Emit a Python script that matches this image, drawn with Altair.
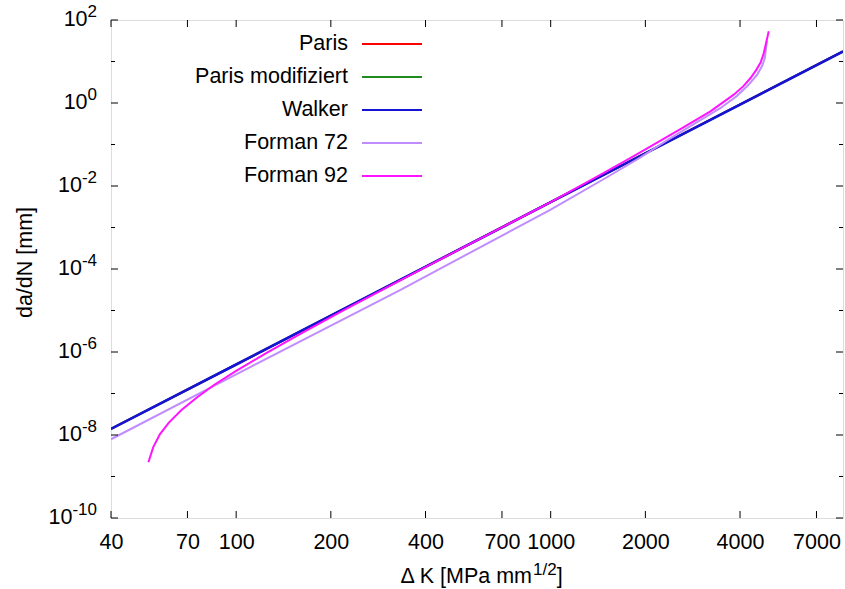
import altair as alt
import pandas as pd

# Crack growth rate da/dN versus stress intensity range ΔK (log-log)
paris_dk = [40, 100, 1000, 8500]
paris_rate = [1.4e-8, 5.0e-7, 4.07e-3, 17.5]

paris_mod_dk = [40, 100, 1000, 8500]
paris_mod_rate = [1.4e-8, 5.0e-7, 4.07e-3, 17.5]

walker_dk = [40, 100, 1000, 8500]
walker_rate = [1.4e-8, 5.0e-7, 4.07e-3, 17.5]

forman72_dk = [40, 100, 332, 1000, 1500, 1930, 2350, 2850, 3470, 3900, 4250, 4535,
               4700, 4800, 4870]
forman72_rate = [7.9e-9, 2.9e-7, 3.1e-5, 2.7e-3, 0.0158, 0.049, 0.128, 0.31, 0.76,
                 1.45, 2.7, 4.8, 7.8, 12.5, 32.0]

forman92_dk = [52.6, 54.5, 57.2, 61, 67, 75, 85, 100, 125, 160, 220, 400, 1000, 1400,
               1790, 2125, 2585, 3220, 3820, 4100, 4320, 4500, 4645, 4750, 4815, 4935]
forman92_rate = [2.2e-9, 5.1e-9, 1.04e-8, 1.96e-8, 4.0e-8, 8.0e-8, 1.6e-7, 3.5e-7,
                 9.5e-7, 2.75e-6, 1.02e-5, 1.11e-4, 4.1e-3, 0.0166, 0.047, 0.099,
                 0.235, 0.63, 1.59, 2.55, 4.0, 6.2, 9.3, 15.0, 23.3, 53.7]

series_names = ["Paris", "Paris modifiziert", "Walker", "Forman 72", "Forman 92"]
series_colors = ["#ff0000", "#1e8c1e", "#1414d2", "#c08cff", "#ff14ff"]
series_widths = [2, 2, 2.6, 2, 2]

x_tick_values = [40, 70, 100, 200, 400, 700, 1000, 2000, 4000, 7000]
y_major_exps = [-10, -8, -6, -4, -2, 0, 2]
y_minor_exps = [-9, -7, -5, -3, -1, 1]

FONT = "Liberation Sans"
FS = 21.5
FS_SUP = 17
W, H = 732, 498

x_scale = alt.Scale(type="log", domain=[40, 8500], nice=False)
y_scale = alt.Scale(type="log", domain=[1e-10, 100], nice=False)

x_axis = alt.Axis(values=x_tick_values, format="d", labelFont=FONT, labelFontSize=FS,
                  labelColor="black", ticks=False, tickSize=0, domain=False, grid=False,
                  labelFlush=False, labelOverlap=False, labelPadding=13, title=None)
y_axis = alt.Axis(labels=False, ticks=False, tickSize=0, domain=False, grid=False,
                  title="da/dN [mm]", titleFont=FONT, titleFontSize=FS,
                  titleFontWeight="normal", titleColor="black", titleX=-86, titleY=242,
                  titleAngle=270, titleAlign="center", titleBaseline="middle")


def x_field(name):
    return alt.X(name, type="quantitative", scale=x_scale, axis=x_axis)


def y_field(name):
    return alt.Y(name, type="quantitative", scale=y_scale, axis=y_axis)


def curve(dk, rate, color, width):
    df = pd.DataFrame({"dk": dk, "rate": rate})
    return alt.Chart(df).mark_line(color=color, strokeWidth=width, clip=True).encode(
        x=x_field("dk"), y=y_field("rate"))


series_data = [
    (paris_dk, paris_rate),
    (paris_mod_dk, paris_mod_rate),
    (walker_dk, walker_rate),
    (forman72_dk, forman72_rate),
    (forman92_dk, forman92_rate),
]
curves = [curve(dk, rate, c, w)
          for (dk, rate), c, w in zip(series_data, series_colors, series_widths)]

# inward ticks on all four sides
xt = pd.DataFrame({"dk": x_tick_values})
xtick_bottom = alt.Chart(xt).mark_rule(color="black").encode(
    x=x_field("dk"), y=alt.value(H), y2=alt.value(H - 7))
xtick_top = alt.Chart(xt).mark_rule(color="black").encode(
    x=x_field("dk"), y=alt.value(0), y2=alt.value(7))


def yticks(exps, length):
    base = alt.Chart(pd.DataFrame({"exp": exps})).transform_calculate(
        rate="pow(10, datum.exp)").mark_rule(color="black")
    left = base.encode(y=y_field("rate"), x=alt.value(0), x2=alt.value(length))
    right = base.encode(y=y_field("rate"), x=alt.value(W), x2=alt.value(W - length))
    return [left, right]


tick_layers = [xtick_bottom, xtick_top] + yticks(y_major_exps, 7) + yticks(y_minor_exps, 4)

# y tick labels as 10 with raised exponent
digit_w = 0.556 * FS_SUP
minus_w = 0.333 * FS_SUP
label_layers = []
for e in y_major_exps:
    s = str(e)
    w = sum(minus_w if ch == "-" else digit_w for ch in s)
    d = pd.DataFrame({"exp": [e]})
    b = alt.Chart(d).transform_calculate(rate="pow(10, datum.exp)",
                                         e="toString(datum.exp)")
    label_layers.append(
        b.mark_text(text="10", align="right", baseline="middle", font=FONT,
                    fontSize=FS, color="black").encode(y=y_field("rate"),
                                                       x=alt.value(-14 - w)))
    label_layers.append(
        b.mark_text(align="right", baseline="middle", font=FONT, fontSize=FS_SUP,
                    color="black", dy=-8).encode(y=y_field("rate"), x=alt.value(-14),
                                                 text=alt.Text("e:N")))

plot = alt.layer(*curves, *tick_layers, *label_layers)

# key in the upper left
leg = pd.DataFrame({"name": series_names})
leg_y = alt.Y("name:N", sort=series_names,
              scale=alt.Scale(type="point", domain=series_names, range=[24, 156], padding=0),
              axis=None)
leg_text = alt.Chart(leg).mark_text(align="right", baseline="middle", font=FONT,
                                    fontSize=FS, color="black").encode(
    x=alt.value(237), y=leg_y, text="name:N")
leg_line = alt.Chart(leg).mark_rule(strokeWidth=2).encode(
    x=alt.value(251), x2=alt.value(311), y=leg_y,
    color=alt.Color("name:N", scale=alt.Scale(domain=series_names, range=series_colors),
                    legend=None))

# x axis title with superscript
one = pd.DataFrame({"k": [0]})
xt_main = alt.Chart(one).mark_text(text="Δ K [MPa mm", align="right", baseline="alphabetic",
                                   font=FONT, fontSize=FS, color="black").encode(
    x=alt.value(421), y=alt.value(563))
xt_sup = alt.Chart(one).mark_text(text="1/2", align="left", baseline="alphabetic",
                                  font=FONT, fontSize=FS_SUP, color="black").encode(
    x=alt.value(422), y=alt.value(555))
xt_close = alt.Chart(one).mark_text(text="]", align="left", baseline="alphabetic",
                                    font=FONT, fontSize=FS, color="black").encode(
    x=alt.value(422 + 1.39 * FS_SUP), y=alt.value(563))

chart = alt.layer(plot, leg_line, leg_text, xt_main, xt_sup, xt_close).resolve_scale(
    y="independent", color="independent"
).properties(
    width=W, height=H,
    autosize=alt.AutoSizeParams(type="none"),
    padding={"left": 111, "top": 20, "right": 2, "bottom": 71},
).configure_view(stroke="#111111", strokeWidth=1.2).configure(background="white")

chart.save("out.html", embed_options={"renderer": "svg", "actions": False})
